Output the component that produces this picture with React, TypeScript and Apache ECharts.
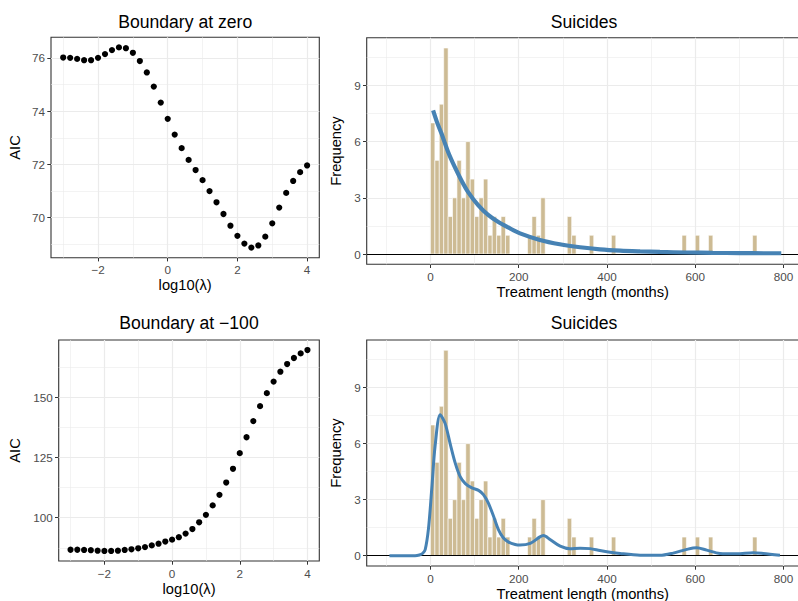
import React, { useEffect, useRef } from 'react';
import * as echarts from 'echarts';

// ---------- data ----------
const logLambda = [-3, -2.8, -2.6, -2.4, -2.2, -2, -1.8, -1.6, -1.4, -1.2, -1, -0.8, -0.6, -0.4, -0.2, 0, 0.2, 0.4, 0.6, 0.8, 1, 1.2, 1.4, 1.6, 1.8, 2, 2.2, 2.4, 2.6, 2.8, 3, 3.2, 3.4, 3.6, 3.8, 4];
const aicZero = [76.01, 76.0, 75.96, 75.91, 75.91, 76.0, 76.14, 76.29, 76.39, 76.36, 76.19, 75.88, 75.45, 74.92, 74.32, 73.71, 73.12, 72.61, 72.17, 71.79, 71.41, 71.0, 70.58, 70.14, 69.7, 69.32, 69.03, 68.88, 68.96, 69.29, 69.79, 70.38, 70.93, 71.38, 71.71, 71.96];
const aicMinus100 = [86.7, 86.7, 86.6, 86.5, 86.3, 86.2, 86.2, 86.3, 86.6, 86.9, 87.3, 87.8, 88.5, 89.2, 90.1, 90.9, 91.9, 93.4, 95.3, 98.1, 101.2, 105.1, 109.5, 114.6, 120.3, 126.8, 133.4, 140.1, 146.3, 151.7, 156.5, 160.6, 163.8, 166.3, 168.2, 169.6];

const binWidth = 10;
const binStarts = [0, 10, 20, 30, 40, 50, 60, 70, 80, 90, 100, 110, 120, 130, 140, 150, 160, 170, 220, 230, 240, 250, 310, 320, 360, 410, 570, 600, 630, 730];
const binCounts = [7, 5, 8, 11, 2, 3, 5, 3, 6, 4, 2, 3, 4, 1, 2, 1, 2, 1, 1, 2, 1, 3, 2, 1, 1, 1, 1, 1, 1, 1];

const expCurveX = [6, 15, 25, 40, 55, 70, 85, 108, 130, 153, 176, 203, 248, 293, 339, 384, 430, 475, 520, 580, 640, 700, 760, 795];
const expCurveY = [7.67, 7.03, 6.43, 5.45, 4.65, 3.94, 3.32, 2.61, 2.1, 1.72, 1.42, 1.1, 0.75, 0.52, 0.36, 0.25, 0.18, 0.14, 0.11, 0.08, 0.06, 0.05, 0.04, 0.04];

const kdeCurveX = [-93, -60, -35, -25, -18, -12, -4.5, 3, 10.6, 22, 33, 44.6, 56, 67, 79, 94, 109, 120, 131, 143, 154, 165, 177, 192, 203, 226, 248, 256, 271, 294, 316, 339, 362, 384, 407, 430, 475, 520, 550, 581, 603, 626, 656, 694, 732, 754, 792];
const kdeCurveY = [0, 0, 0, 0.04, 0.12, 0.32, 1.45, 3.6, 5.9, 7.55, 7.1, 6.0, 4.97, 4.25, 3.86, 3.63, 3.5, 3.27, 2.83, 2.11, 1.4, 0.96, 0.73, 0.6, 0.57, 0.66, 1.01, 1.08, 0.87, 0.51, 0.37, 0.4, 0.38, 0.28, 0.19, 0.12, 0.03, 0.02, 0.14, 0.34, 0.43, 0.3, 0.12, 0.1, 0.16, 0.12, 0.02];

const lambdaTicks = [-2, 0, 2, 4];
const lambdaMinor = [-3, -1, 1, 3];
const aicZeroTicks = [70, 72, 74, 76];
const aicZeroMinor = [69, 71, 73, 75];
const aic100Ticks = [100, 125, 150];
const aic100Minor = [87.5, 112.5, 137.5, 162.5];
const monthTicks = [0, 200, 400, 600, 800];
const monthMinor = [-100, 100, 300, 500, 700];
const freqTicks = [0, 3, 6, 9];
const freqMinor = [1.5, 4.5, 7.5, 10.5];

// ---------- styles ----------
const FONT = '"Liberation Sans", Arial, Helvetica, sans-serif';
const GRID_COLOR = '#EBEBEB';
const BAR_COLOR = '#CDBB94';
const LINE_COLOR = '#4682B4';
const fmt = (v: number) => (v < 0 ? '\u2212' + Math.abs(v) : String(v));

function axis(gridIndex: number, min: number, max: number, ticks: number[], name: string, nameGap: number) {
  return {
    type: 'value',
    gridIndex,
    min,
    max,
    axisLine: { show: false, onZero: false },
    axisTick: { show: true, length: 3.7, lineStyle: { color: '#333333', width: 1 }, customValues: ticks },
    axisLabel: { customValues: ticks, formatter: fmt, color: '#4D4D4D', fontSize: 11.7, fontFamily: FONT, margin: 6 },
    splitLine: { show: false },
    name,
    nameLocation: 'middle',
    nameGap,
    nameTextStyle: { color: '#000000', fontSize: 14.7, fontFamily: FONT },
  };
}

function gridLines(idx: number, xMajor: number[], xMinor: number[], yMajor: number[], yMinor: number[]) {
  const data: any[] = [];
  xMinor.forEach((v) => data.push({ xAxis: v, lineStyle: { color: GRID_COLOR, width: 0.6, type: 'solid' } }));
  yMinor.forEach((v) => data.push({ yAxis: v, lineStyle: { color: GRID_COLOR, width: 0.6, type: 'solid' } }));
  xMajor.forEach((v) => data.push({ xAxis: v, lineStyle: { color: GRID_COLOR, width: 1.2, type: 'solid' } }));
  yMajor.forEach((v) => data.push({ yAxis: v, lineStyle: { color: GRID_COLOR, width: 1.2, type: 'solid' } }));
  return {
    type: 'line',
    xAxisIndex: idx,
    yAxisIndex: idx,
    data: [],
    silent: true,
    z: 1,
    markLine: {
      z: 1,
      silent: true,
      symbol: ['none', 'none'],
      label: { show: false },
      emphasis: { disabled: true },
      animation: false,
      data,
    },
  };
}

function zeroLine(idx: number) {
  return {
    type: 'line',
    xAxisIndex: idx,
    yAxisIndex: idx,
    data: [],
    silent: true,
    z: 3,
    markLine: {
      z: 3,
      silent: true,
      symbol: ['none', 'none'],
      label: { show: false },
      emphasis: { disabled: true },
      animation: false,
      data: [{ yAxis: 0, lineStyle: { color: '#000000', width: 1.1, type: 'solid' } }],
    },
  };
}

function histSeries(idx: number) {
  return {
    type: 'custom',
    xAxisIndex: idx,
    yAxisIndex: idx,
    silent: true,
    z: 2,
    data: binStarts.map((b, i) => [b, binCounts[i]]),
    encode: { x: 0, y: 1 },
    renderItem: (params: any, api: any) => {
      const x0 = api.value(0);
      const c = api.value(1);
      const p0 = api.coord([x0, 0]);
      const p1 = api.coord([x0 + binWidth, c]);
      return {
        type: 'rect',
        shape: { x: p0[0], y: p1[1], width: p1[0] - p0[0], height: p0[1] - p1[1] },
        style: { fill: BAR_COLOR, stroke: '#FFFFFF', lineWidth: 0.6 },
      };
    },
  };
}

function curveSeries(idx: number, xs: number[], ys: number[], width: number) {
  return {
    type: 'line',
    xAxisIndex: idx,
    yAxisIndex: idx,
    data: xs.map((x, i) => [x, ys[i]]),
    showSymbol: false,
    smooth: 0.3,
    silent: true,
    z: 4,
    lineStyle: { color: LINE_COLOR, width },
  };
}

function scatterSeries(idx: number, ys: number[]) {
  return {
    type: 'scatter',
    xAxisIndex: idx,
    yAxisIndex: idx,
    symbolSize: 6.2,
    silent: true,
    z: 4,
    itemStyle: { color: '#000000', opacity: 1 },
    data: logLambda.map((x, i) => [x, ys[i]]),
  };
}

function titleItem(text: string, left: number, top: number) {
  return {
    text,
    left,
    top,
    textAlign: 'center',
    padding: 0,
    textStyle: { fontSize: 17.6, fontWeight: 'normal', color: '#000000', fontFamily: FONT },
  };
}

export default function App() {
  const ref = useRef<HTMLDivElement>(null);
  useEffect(() => {
    document.body.style.margin = '0';
    if (!ref.current) return;
    const chart = echarts.init(ref.current, null, { renderer: 'svg' });
    const gridBase = { show: true, borderColor: '#333333', borderWidth: 1.1, backgroundColor: 'transparent', containLabel: false, outerBoundsMode: 'none' };
    chart.setOption({
      animation: false,
      backgroundColor: '#FFFFFF',
      title: [
        titleItem('Boundary at zero', 185.2, 12.5),
        titleItem('Suicides', 584, 12.5),
        titleItem('Boundary at \u2212100', 189, 313.7),
        titleItem('Suicides', 584, 313.7),
      ],
      grid: [
        { ...gridBase, left: 51, top: 37.3, width: 268.3, height: 220.4 },
        { ...gridBase, left: 366.7, top: 37.7, width: 432, height: 226.6 },
        { ...gridBase, left: 58.7, top: 340, width: 260.6, height: 221 },
        { ...gridBase, left: 366.7, top: 340, width: 432, height: 226 },
      ],
      xAxis: [
        axis(0, -3.35, 4.35, lambdaTicks, 'log10(\u03BB)', 20),
        axis(1, -144.5, 834.5, monthTicks, 'Treatment length (months)', 20),
        axis(2, -3.35, 4.35, lambdaTicks, 'log10(\u03BB)', 20),
        axis(3, -144.5, 834.5, monthTicks, 'Treatment length (months)', 20),
      ],
      yAxis: [
        axis(0, 68.5, 76.77, aicZeroTicks, 'AIC', 28.6),
        axis(1, -0.55, 11.55, freqTicks, 'Frequency', 19.3),
        axis(2, 82.03, 173.77, aic100Ticks, 'AIC', 36.3),
        axis(3, -0.55, 11.55, freqTicks, 'Frequency', 19.3),
      ],
      series: [
        gridLines(0, lambdaTicks, lambdaMinor, aicZeroTicks, aicZeroMinor),
        scatterSeries(0, aicZero),
        gridLines(1, monthTicks, monthMinor, freqTicks, freqMinor),
        histSeries(1),
        zeroLine(1),
        curveSeries(1, expCurveX, expCurveY, 4.2),
        gridLines(2, lambdaTicks, lambdaMinor, aic100Ticks, aic100Minor),
        scatterSeries(2, aicMinus100),
        gridLines(3, monthTicks, monthMinor, freqTicks, freqMinor),
        histSeries(3),
        zeroLine(3),
        curveSeries(3, kdeCurveX, kdeCurveY, 3),
      ],
    });
    return () => chart.dispose();
  }, []);
  return <div ref={ref} style={{ width: 798, height: 601 }} />;
}
